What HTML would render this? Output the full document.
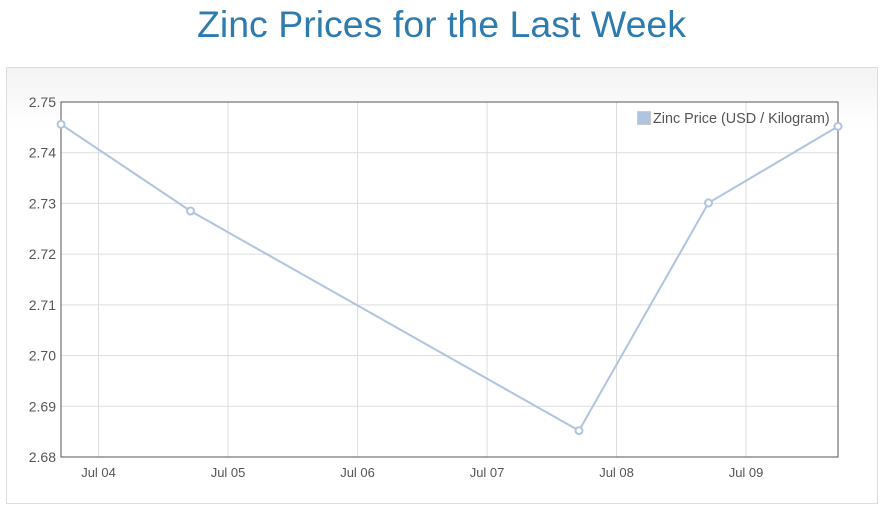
<!DOCTYPE html>
<html><head><meta charset="utf-8"><style>
body{margin:0;width:883px;height:515px;background:#fff;font-family:"Liberation Sans",sans-serif;overflow:hidden}
#title{position:absolute;left:0;top:3px;width:883px;text-align:center;font-size:37.5px;color:#2e7bb0}
#box{position:absolute;left:6px;top:67px;width:870px;height:435px;border:1px solid #ddd;background:linear-gradient(#f3f3f3,#fff 60px)}
svg{position:absolute;left:0;top:0}
</style></head><body>
<div id="title">Zinc Prices for the Last Week</div>
<div id="box"></div>
<svg id="chart" width="883" height="515"></svg>
<script>
const dates=[3.71,4.71,7.71,8.71,9.71];
const prices=[2.7456,2.7285,2.6852,2.7301,2.7452];
const yTicks=[2.68,2.69,2.70,2.71,2.72,2.73,2.74,2.75];
const xTicks=[4,5,6,7,8,9];
const xLabels=["Jul 04","Jul 05","Jul 06","Jul 07","Jul 08","Jul 09"];
const L=61,R=838,T=102,B=457;
const x=d=>L+(d-3.71)/(9.71-3.71)*(R-L);
const y=v=>B-(v-2.68)/(0.07)*(B-T);
const s=document.getElementById('chart');const NS='http://www.w3.org/2000/svg';
function mk(t,a,p){const e=document.createElementNS(NS,t);for(const k in a)e.setAttribute(k,a[k]);(p||s).appendChild(e);return e;}
mk('rect',{x:L,y:T,width:R-L,height:B-T,fill:'#fff'});
yTicks.forEach((v,i)=>{
 const g=mk('line',{x1:L,x2:R,y1:y(v),y2:y(v),stroke:'#ddd'});
 
 
 const t=mk('text',{x:L-5,y:y(v)+5,'text-anchor':'end','font-size':14,fill:'#555'});t.textContent=v.toFixed(2);
 
 
});
xTicks.forEach((d,i)=>{
 const g=mk('line',{x1:x(d),x2:x(d),y1:T,y2:B,stroke:'#ddd'});
 
 
 const t=mk('text',{x:x(d),y:B+20,'text-anchor':'middle','font-size':13,fill:'#555'});t.textContent=xLabels[i];
 
 
});
mk('rect',{x:L,y:T,width:R-L,height:B-T,fill:'none',stroke:'#555'});
const ln=mk('polyline',{points:dates.map((d,i)=>x(d)+','+y(prices[i])).join(' '),fill:'none',stroke:'#afc4de','stroke-width':2});


dates.forEach((d,i)=>{
 const c=mk('circle',{cx:x(d),cy:y(prices[i]),r:3.5,fill:'#fff',stroke:'#afc4de','stroke-width':2});
 
 
});
const lg=mk('g',{});


mk('rect',{x:637.5,y:111.5,width:13,height:13,fill:'#afc4de',stroke:'#ccc'},lg);
const lt=mk('text',{x:653,y:123,'font-size':14.4,fill:'#555'},lg);lt.textContent='Zinc Price (USD / Kilogram)';
</script>
</body></html>
